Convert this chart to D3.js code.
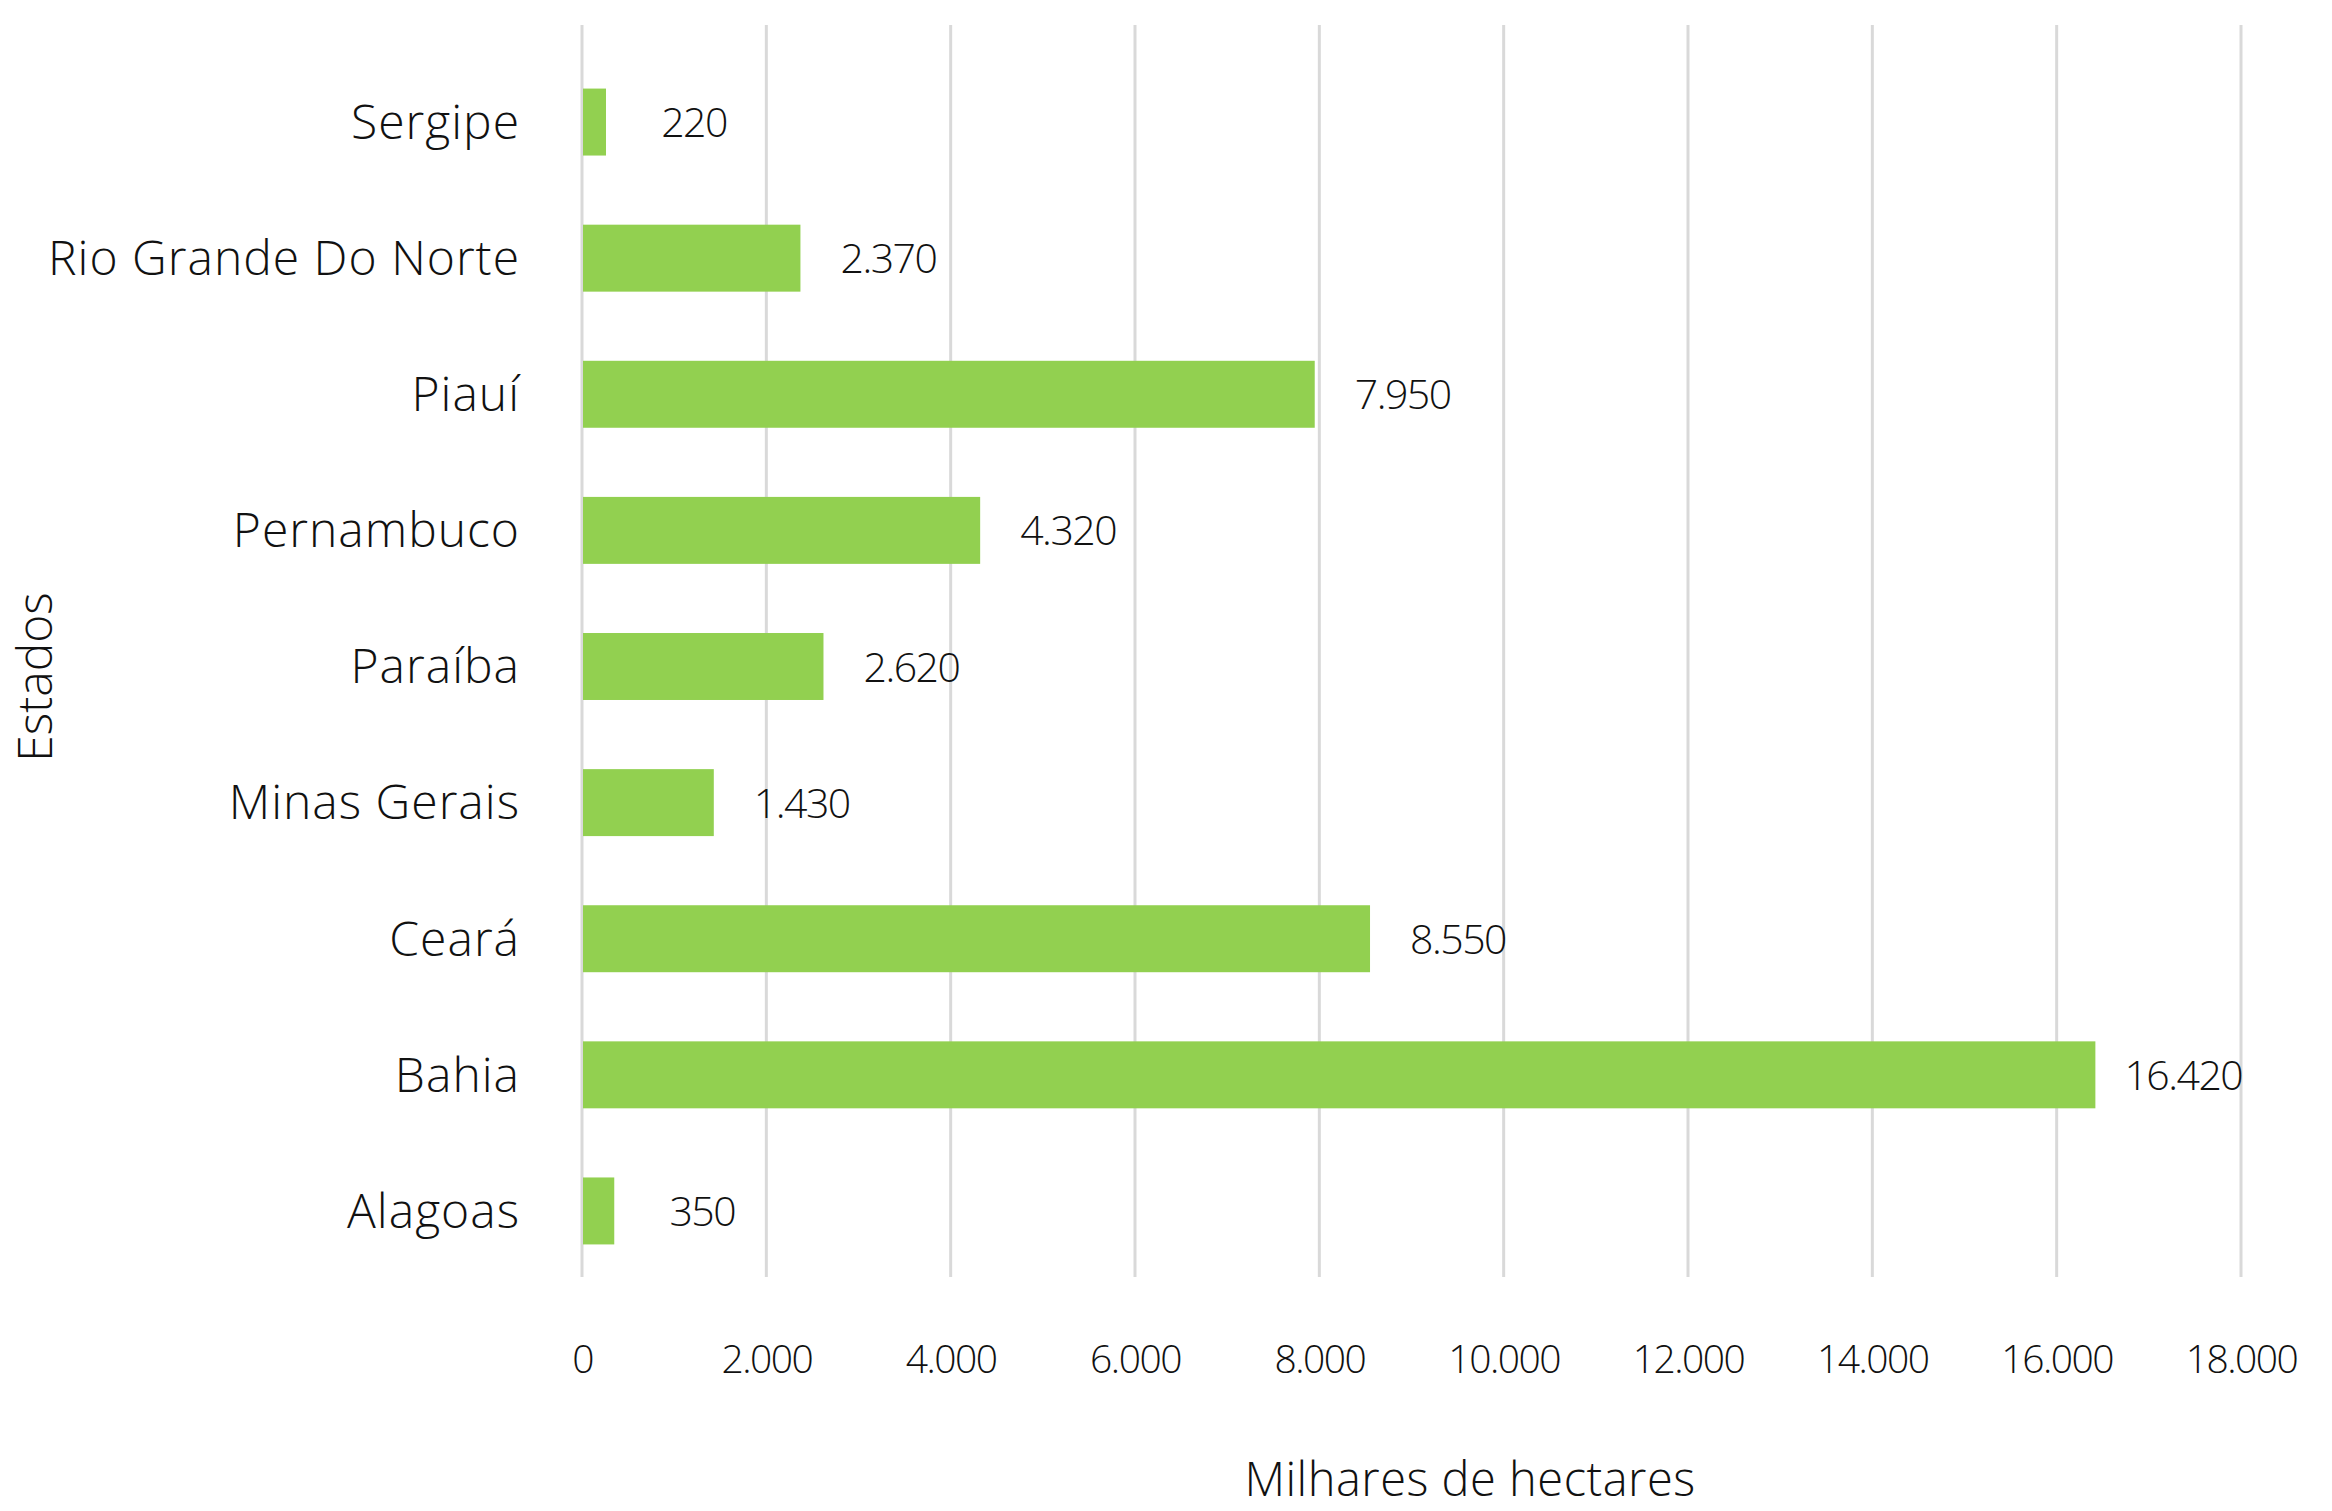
<!DOCTYPE html>
<html>
<head>
<meta charset="utf-8">
<script src="https://cdn.jsdelivr.net/npm/d3@7"></script>
<style>
  html, body { margin: 0; padding: 0; background: #ffffff; }
  svg { display: block; font-family: "Open Sans", "Lato", sans-serif; font-weight: 300; }
</style>
</head>
<body>
<svg id="chart" width="2332" height="1511"></svg>
<script>
const categories = ["Sergipe", "Rio Grande Do Norte", "Piauí", "Pernambuco", "Paraíba", "Minas Gerais", "Ceará", "Bahia", "Alagoas"];
const values = [220, 2370, 7950, 4320, 2620, 1430, 8550, 16420, 350];
const xTicks = [0, 2000, 4000, 6000, 8000, 10000, 12000, 14000, 16000, 18000];
const xTitle = "Milhares de hectares";
const yTitle = "Estados";

const svg = d3.select("#chart");
const x0 = 582, x1 = 2241;
const gridTop = 25, gridBottom = 1277;

const fmt = v => d3.format(",")(v).replace(/,/g, ".");

const x = d3.scaleLinear().domain([0, 18000]).range([x0, x1]);
const y = d3.scaleBand().domain(categories).range([54, 1279]).paddingInner(0.508).paddingOuter(0.254);

// gridlines
svg.append("g").selectAll("line").data(xTicks).join("line")
  .attr("x1", d => x(d)).attr("x2", d => x(d))
  .attr("y1", gridTop).attr("y2", gridBottom)
  .attr("stroke", "#d9d9d9").attr("stroke-width", 3);

// bars
svg.append("g").selectAll("rect").data(categories).join("rect")
  .attr("x", x(0) + 1)
  .attr("y", d => y(d))
  .attr("width", (d, i) => Math.max(x(values[i]) - x(0) - 1, 23))
  .attr("height", y.bandwidth())
  .attr("fill", "#92d050");

// value labels
svg.append("g").selectAll("text").data(categories).join("text")
  .attr("x", (d, i) => Math.max(x(values[i]), x(0) + 24) + 88)
  .attr("y", d => y(d) + y.bandwidth() / 2 + 15)
  .attr("text-anchor", "middle")
  .attr("font-size", 41)
  .attr("letter-spacing", -1.5)
  .attr("fill", "#111")
  .text((d, i) => fmt(values[i]));

// x axis tick labels
const xAxis = d3.axisBottom(x).tickValues(xTicks).tickFormat(fmt).tickSize(0).tickPadding(0);
const gx = svg.append("g").attr("transform", `translate(0, 1373)`).call(xAxis);
gx.select(".domain").remove();
gx.selectAll("text")
  .attr("dy", 0).attr("y", 0)
  .attr("font-size", 39)
  .attr("letter-spacing", -1.5)
  .attr("font-family", "Open Sans, Lato, sans-serif")
  .attr("font-weight", 300)
  .attr("fill", "#111");

// y axis category labels
const yAxis = d3.axisLeft(y).tickSize(0).tickPadding(0);
const gy = svg.append("g").attr("transform", `translate(520, 0)`).call(yAxis);
gy.select(".domain").remove();
gy.selectAll("text")
  .attr("dy", "0.35em")
  .attr("font-size", 48)
  .attr("letter-spacing", 1)
  .attr("font-family", "Open Sans, Lato, sans-serif")
  .attr("font-weight", 300)
  .attr("fill", "#111");

// axis titles
svg.append("text")
  .attr("x", 1470).attr("y", 1496)
  .attr("text-anchor", "middle")
  .attr("font-size", 47)
  .attr("letter-spacing", 0.5)
  .attr("fill", "#111")
  .text(xTitle);

svg.append("text")
  .attr("transform", "translate(52, 677) rotate(-90)")
  .attr("text-anchor", "middle")
  .attr("font-size", 48)
  .attr("fill", "#111")
  .text(yTitle);
</script>
</body>
</html>
